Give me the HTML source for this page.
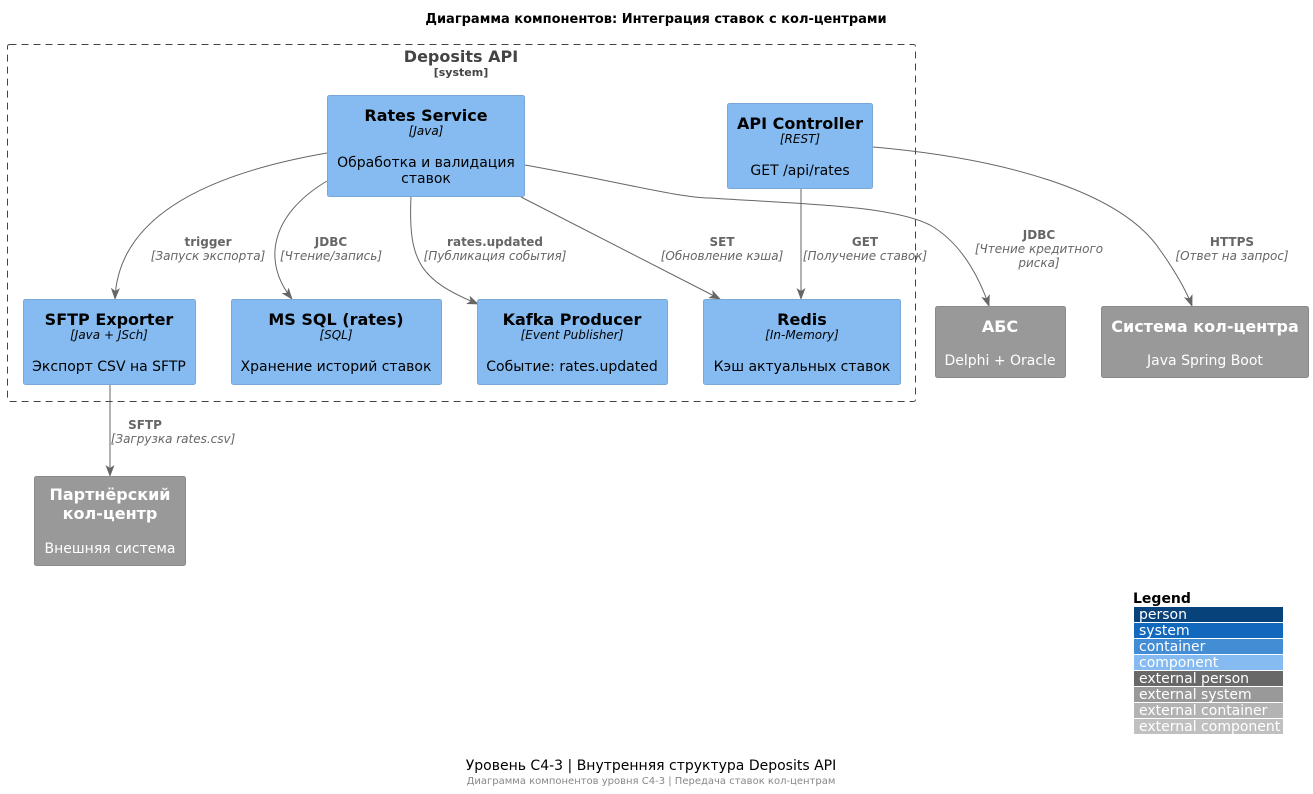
<!DOCTYPE html>
<html><head><meta charset="utf-8"><style>
html,body{margin:0;padding:0;background:#fff;}
svg{display:block;font-family:"DejaVu Sans","Liberation Sans","Noto Sans CJK SC",sans-serif;}
</style></head><body>
<svg width="1313" height="794" viewBox="0 0 1313 794" xmlns="http://www.w3.org/2000/svg">
<defs><marker id="a" markerWidth="12" markerHeight="12" refX="11" refY="6" orient="auto" markerUnits="userSpaceOnUse"><path d="M0,1.5 L12,6 L0,10.5 L3,6 Z" fill="#666"/></marker></defs>
<text x="656" y="23" text-anchor="middle" font-size="13" font-weight="bold">Диаграмма компонентов: Интеграция ставок с кол-центрами</text>
<rect x="7.5" y="44.5" width="908" height="357" fill="none" stroke="#444" stroke-dasharray="7,5" rx="2"/>
<text x="461" y="62" text-anchor="middle" font-size="16" font-weight="bold" fill="#444">Deposits API</text>
<text x="461" y="76" text-anchor="middle" font-size="11" font-weight="bold" fill="#444">[system]</text>

<g fill="none" stroke="#666" stroke-width="1">
<path d="M327,153 C200,175 118,220 115,299" marker-end="url(#a)"/>
<path d="M327,181 C270,215 262,262 292,299" marker-end="url(#a)"/>
<path d="M411,196 C408,262 420,280 478,304" marker-end="url(#a)"/>
<path d="M521,197 L720,299" marker-end="url(#a)"/>
<path d="M525,165 C620,182 680,198 710,198 C800,204 890,205 930,225 C965,245 982,285 989,306" marker-end="url(#a)"/>
<path d="M801,188 L801,299" marker-end="url(#a)"/>
<path d="M873,147 C1000,158 1120,190 1160,250 C1178,275 1188,295 1192,306" marker-end="url(#a)"/>
<path d="M110,384 L110,476" marker-end="url(#a)"/>
</g>

<g font-size="12" fill="#666" text-anchor="middle">
<text x="208" y="246" font-weight="bold">trigger</text><text x="208" y="260" font-style="italic">[Запуск экспорта]</text>
<text x="331" y="246" font-weight="bold">JDBC</text><text x="331" y="260" font-style="italic">[Чтение/запись]</text>
<text x="495" y="246" font-weight="bold">rates.updated</text><text x="495" y="260" font-style="italic">[Публикация события]</text>
<text x="722" y="246" font-weight="bold">SET</text><text x="722" y="260" font-style="italic">[Обновление кэша]</text>
<text x="865" y="246" font-weight="bold">GET</text><text x="865" y="260" font-style="italic">[Получение ставок]</text>
<text x="1039" y="239" font-weight="bold">JDBC</text><text x="1039" y="253" font-style="italic">[Чтение кредитного</text><text x="1039" y="267" font-style="italic">риска]</text>
<text x="1232" y="246" font-weight="bold">HTTPS</text><text x="1232" y="260" font-style="italic">[Ответ на запрос]</text>
<text x="145" y="429" font-weight="bold">SFTP</text><text x="173" y="443" font-style="italic">[Загрузка rates.csv]</text>
</g>

<g fill="#85BBF0" stroke="#78A8D8">
<rect x="327.5" y="95.5" width="197" height="101" rx="2"/>
<rect x="727.5" y="103.5" width="145" height="85" rx="2"/>
<rect x="23.5" y="299.5" width="172" height="85" rx="2"/>
<rect x="231.5" y="299.5" width="210" height="85" rx="2"/>
<rect x="477.5" y="299.5" width="190" height="85" rx="2"/>
<rect x="703.5" y="299.5" width="197" height="85" rx="2"/>
</g>
<g fill="#999" stroke="#8A8A8A">
<rect x="935.5" y="306.5" width="130" height="71" rx="2"/>
<rect x="1101.5" y="306.5" width="207" height="71" rx="2"/>
<rect x="34.5" y="476.5" width="151" height="89" rx="2"/>
</g>

<g text-anchor="middle" fill="#000">
<text x="426" y="121" font-size="16" font-weight="bold">Rates Service</text>
<text x="426" y="135" font-size="12" font-style="italic">[Java]</text>
<text x="426" y="167" font-size="14">Обработка и валидация</text>
<text x="426" y="183" font-size="14">ставок</text>

<text x="800" y="129" font-size="16" font-weight="bold">API Controller</text>
<text x="800" y="143" font-size="12" font-style="italic">[REST]</text>
<text x="800" y="175" font-size="14">GET /api/rates</text>

<text x="109" y="325" font-size="16" font-weight="bold">SFTP Exporter</text>
<text x="109" y="339" font-size="12" font-style="italic">[Java + JSch]</text>
<text x="109" y="371" font-size="14">Экспорт CSV на SFTP</text>

<text x="336" y="325" font-size="16" font-weight="bold">MS SQL (rates)</text>
<text x="336" y="339" font-size="12" font-style="italic">[SQL]</text>
<text x="336" y="371" font-size="14">Хранение историй ставок</text>

<text x="572" y="325" font-size="16" font-weight="bold">Kafka Producer</text>
<text x="572" y="339" font-size="12" font-style="italic">[Event Publisher]</text>
<text x="572" y="371" font-size="14">Событие: rates.updated</text>

<text x="802" y="325" font-size="16" font-weight="bold">Redis</text>
<text x="802" y="339" font-size="12" font-style="italic">[In-Memory]</text>
<text x="802" y="371" font-size="14">Кэш актуальных ставок</text>
</g>
<g text-anchor="middle" fill="#fff">
<text x="1000" y="332" font-size="16" font-weight="bold">АБС</text>
<text x="1000" y="365" font-size="14">Delphi + Oracle</text>
<text x="1205" y="332" font-size="16" font-weight="bold">Система кол-центра</text>
<text x="1205" y="365" font-size="14">Java Spring Boot</text>
<text x="110" y="500" font-size="16" font-weight="bold">Партнёрский</text>
<text x="110" y="519" font-size="16" font-weight="bold">кол-центр</text>
<text x="110" y="553" font-size="14">Внешняя система</text>
</g>

<text x="1133" y="603" font-size="14" font-weight="bold">Legend</text>
<g font-size="14" fill="#fff">
<rect x="1134" y="607" width="149" height="15" fill="#08427B"/><text x="1139" y="619">person</text>
<rect x="1134" y="623" width="149" height="15" fill="#1168BD"/><text x="1139" y="635">system</text>
<rect x="1134" y="639" width="149" height="15" fill="#438DD5"/><text x="1139" y="651">container</text>
<rect x="1134" y="655" width="149" height="15" fill="#85BBF0"/><text x="1139" y="667">component</text>
<rect x="1134" y="671" width="149" height="15" fill="#686868"/><text x="1139" y="683">external person</text>
<rect x="1134" y="687" width="149" height="15" fill="#999999"/><text x="1139" y="699">external system</text>
<rect x="1134" y="703" width="149" height="15" fill="#B3B3B3"/><text x="1139" y="715">external container</text>
<rect x="1134" y="719" width="149" height="15" fill="#C0C0C0"/><text x="1139" y="731">external component</text>
</g>

<text x="651" y="770" text-anchor="middle" font-size="14">Уровень C4-3 | Внутренняя структура Deposits API</text>
<text x="651" y="784" text-anchor="middle" font-size="10" fill="#888">Диаграмма компонентов уровня C4-3 | Передача ставок кол-центрам</text>
</svg>
</body></html>
